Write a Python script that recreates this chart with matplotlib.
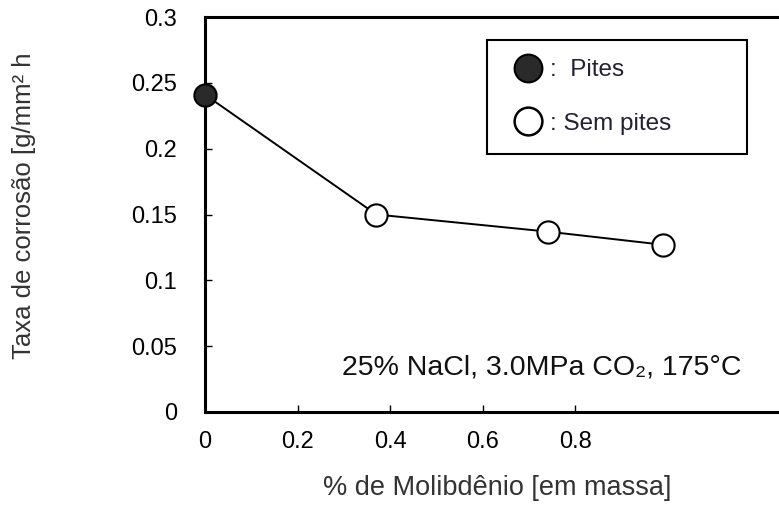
import matplotlib.pyplot as plt
from matplotlib.lines import Line2D

plt.rcParams['font.family'] = ['Liberation Sans', 'DejaVu Sans']

# dados
mo_pct = [0.0, 0.37, 0.74, 0.99]
taxa = [0.241, 0.150, 0.137, 0.127]
pites = [True, False, False, False]

x_ticks = [0, 0.2, 0.4, 0.6, 0.8]
x_tick_labels = ['0', '0.2', '0.4', '0.6', '0.8']
y_ticks = [0, 0.05, 0.1, 0.15, 0.2, 0.25, 0.3]
y_tick_labels = ['0', '0.05', '0.1', '0.15', '0.2', '0.25', '0.3']

fig = plt.figure(figsize=(7.79, 5.05), dpi=100)
ax = fig.add_axes([205 / 779, 93 / 505, 602 / 779, 395 / 505])

ax.plot(mo_pct, taxa, color='black', lw=1.4, zorder=2)
for x, y, p in zip(mo_pct, taxa, pites):
    ax.plot(x, y, 'o', ms=16, mec='black', mew=1.5,
            mfc='#2a2a2a' if p else 'white', zorder=3, clip_on=False)

ax.set_xlim(0, 1.3)
ax.set_ylim(0, 0.3)
ax.set_xticks(x_ticks)
ax.set_xticklabels(x_tick_labels)
ax.set_yticks(y_ticks)
ax.set_yticklabels(y_tick_labels)
ax.tick_params(axis='both', direction='in', length=5, width=1, labelsize=17)
ax.tick_params(axis='y', pad=20)
ax.tick_params(axis='x', pad=14)
for s in ax.spines.values():
    s.set_linewidth(2.2)

handles = [
    Line2D([], [], ls='none', marker='o', ms=20, mfc='#2a2a2a', mec='black', mew=1.5),
    Line2D([], [], ls='none', marker='o', ms=20, mfc='white', mec='black', mew=1.8),
]
leg = ax.legend(handles, [':  Pites', ': Sem pites'], loc='upper left',
                bbox_to_anchor=(0.468, 0.0, 0.432, 0.942), mode='expand',
                borderaxespad=0, fancybox=False,
                edgecolor='black', framealpha=1, fontsize=17.5, handlelength=1.8,
                handletextpad=0.0, labelspacing=1.3, borderpad=0.8)
leg.get_frame().set_linewidth(1.5)
for t in leg.get_texts():
    t.set_color('#222233')

ax.text(0.296, 0.034, '25% NaCl, 3.0MPa CO\u2082, 175\u00b0C', fontsize=20.5,
        transform=ax.transData, va='center', ha='left', color='#111111')

fig.text(24 / 779, 1 - 206 / 505, 'Taxa de corros\u00e3o [g/mm\u00b2 h', rotation=90,
         ha='center', va='center', fontsize=18.5, color='#333333')
fig.text(497 / 779, 1 - 488 / 505, '% de Molibd\u00eanio [em massa]',
         ha='center', va='center', fontsize=19.5, color='#333333')

fig.savefig('out.png', dpi=100)
